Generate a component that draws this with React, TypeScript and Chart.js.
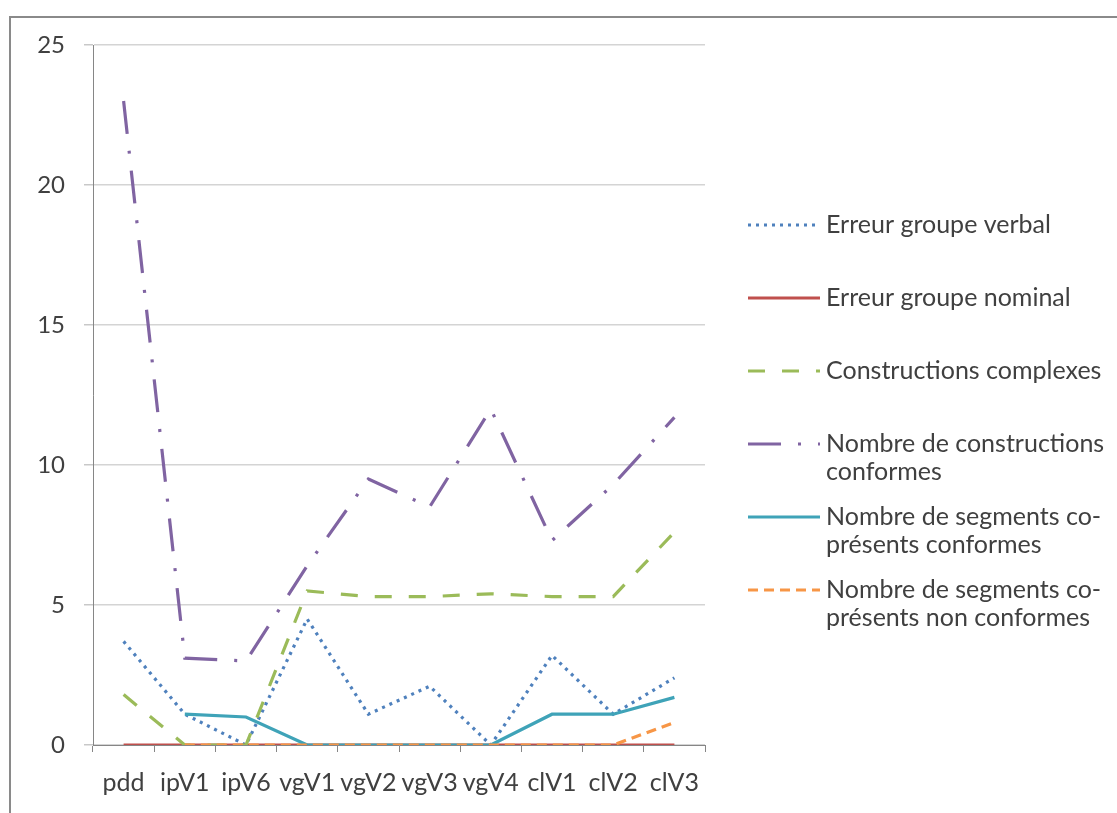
import React, { useEffect, useRef } from "react";
import { Chart, registerables } from "chart.js";

Chart.register(...registerables);

const categories = ["pdd", "ipV1", "ipV6", "vgV1", "vgV2", "vgV3", "vgV4", "clV1", "clV2", "clV3"];
const erreurVerbal = [3.7, 1.1, 0, 4.5, 1.1, 2.1, 0, 3.2, 1.1, 2.4];
const erreurNominal = [0, 0, 0, 0, 0, 0, 0, 0, 0, 0];
const constructionsComplexes = [1.8, 0, 0, 5.5, 5.3, 5.3, 5.4, 5.3, 5.3, 7.6];
const constructionsConformes = [23, 3.1, 3.0, 6.4, 9.5, 8.5, 12, 7.3, 9.3, 11.7];
const segmentsConformes = [null, 1.1, 1.0, 0, 0, 0, 0, 1.1, 1.1, 1.7];
const segmentsNonConformes = [null, 0, 0, 0, 0, 0, 0, 0, 0, 0.8];
const yTicks = [0, 5, 10, 15, 20, 25];

const legendLabels = [
  ["Erreur groupe verbal"],
  ["Erreur groupe nominal"],
  ["Constructions complexes"],
  ["Nombre de constructions", "conformes"],
  ["Nombre de segments co-", "présents conformes"],
  ["Nombre de segments co-", "présents non conformes"],
];

const FONT = "Lato, 'Open Sans', sans-serif";
const TEXT = "#404040";

const legendPlugin = {
  id: "sideLegend",
  afterDraw(chart: any) {
    const ctx = chart.ctx;
    const ds = chart.data.datasets;
    ctx.save();
    ctx.font = `25px ${FONT}`;
    ctx.fillStyle = TEXT;
    ctx.textBaseline = "middle";
    ctx.textAlign = "left";
    ds.forEach((d: any, i: number) => {
      const y = 225 + i * 73;
      ctx.save();
      ctx.strokeStyle = d.borderColor;
      ctx.lineWidth = d.borderWidth;
      ctx.setLineDash(d.borderDash || []);
      ctx.beginPath();
      ctx.moveTo(748, y);
      ctx.lineTo(820, y);
      ctx.stroke();
      ctx.restore();
      legendLabels[i].forEach((t, k) => {
        ctx.fillText(t, 826, y + k * 28);
      });
    });
    ctx.restore();
  },
};

export default function App() {
  const ref = useRef<HTMLCanvasElement>(null);
  useEffect(() => {
    if (!ref.current) return;
    const series = [
      { label: "Erreur groupe verbal", data: erreurVerbal, borderColor: "#4f81bd", borderDash: [3, 5] },
      { label: "Erreur groupe nominal", data: erreurNominal, borderColor: "#c0504d", borderDash: [] },
      { label: "Constructions complexes", data: constructionsComplexes, borderColor: "#9bbb59", borderDash: [17, 17] },
      { label: "Nombre de constructions conformes", data: constructionsConformes, borderColor: "#8064a2", borderDash: [33, 17, 3, 17] },
      { label: "Nombre de segments co-présents conformes", data: segmentsConformes, borderColor: "#3fa3b8", borderDash: [] },
      { label: "Nombre de segments co-présents non conformes", data: segmentsNonConformes, borderColor: "#f79646", borderDash: [10, 6] },
    ];
    const chart = new Chart(ref.current, {
      type: "line",
      data: {
        labels: categories,
        datasets: series.map((s, i) => ({
          ...s,
          borderWidth: 3.2,
          pointRadius: 0,
          fill: false,
          tension: 0,
          spanGaps: false,
          order: series.length - i,
        })),
      },
      plugins: [legendPlugin],
      options: {
        responsive: false,
        animation: false,
        events: [],
        layout: { padding: { left: 0, top: 45, right: 412, bottom: 0 } },
        plugins: { legend: { display: false }, tooltip: { enabled: false } },
        scales: {
          x: {
            type: "category",
            offset: true,
            grid: {
              offset: true,
              drawOnChartArea: false,
              drawTicks: true,
              tickLength: 7,
              color: "#868686",
            },
            border: { color: "#868686", width: 1 },
            ticks: {
              color: TEXT,
              font: { family: FONT, size: 25 },
              padding: 16,
              maxRotation: 0,
              autoSkip: false,
            },
            afterFit(scale: any) {
              scale.height = 68;
            },
          },
          y: {
            min: 0,
            max: 25,
            afterBuildTicks(scale: any) {
              scale.ticks = yTicks.map((v) => ({ value: v }));
            },
            grid: {
              color: "#d4d4d4",
              lineWidth: 1.5,
              tickLength: 9,
              tickColor: "#c8c8c8",
            },
            border: { color: "#868686", width: 1 },
            ticks: {
              color: TEXT,
              font: { family: FONT, size: 24 },
              padding: 19,
            },
            afterFit(scale: any) {
              scale.width = 93;
            },
          },
        },
      },
    });
    return () => chart.destroy();
  }, []);

  return (
    <div style={{ position: "absolute", left: 0, top: 0, width: 1117, height: 813, background: "#fff", overflow: "hidden" }}>
      <div style={{ position: "absolute", left: 9, top: 16, right: 0, bottom: 0, borderTop: "2px solid #8a8a8a", borderLeft: "2px solid #8a8a8a" }} />
      <canvas ref={ref} width={1117} height={813} style={{ position: "absolute", left: 0, top: 0 }} />
    </div>
  );
}
